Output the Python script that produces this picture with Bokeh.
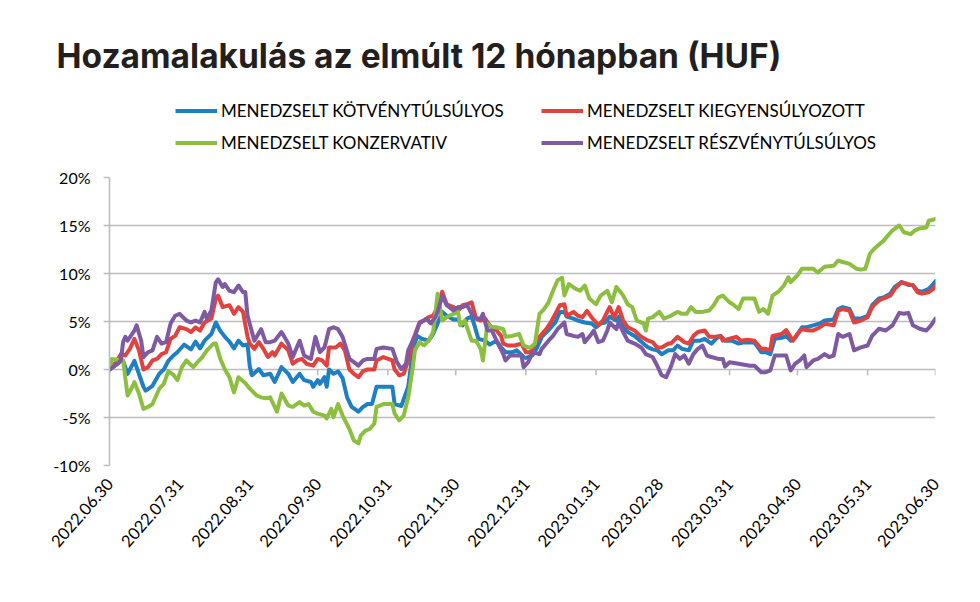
import pandas as pd
from bokeh.plotting import figure
from bokeh.models import (Range1d, FixedTicker, DatetimeTickFormatter, Legend, DatetimeAxis,
                          LegendItem, Label, PrintfTickFormatter)
from bokeh.embed import file_html
from bokeh.resources import INLINE

# ---------------- data ----------------
TITLE = "Hozamalakulás az elmúlt 12 hónapban (HUF)"
START = "2022-06-30"
END = "2023-06-30"
tick_dates = ["2022-06-30", "2022-07-31", "2022-08-31", "2022-09-30", "2022-10-31",
              "2022-11-30", "2022-12-31", "2023-01-31", "2023-02-28", "2023-03-31",
              "2023-04-30", "2023-05-31", "2023-06-30"]
y_ticks = [-10, -5, 0, 5, 10, 15, 20]

names = ["MENEDZSELT KÖTVÉNYTÚLSÚLYOS", "MENEDZSELT KIEGYENSÚLYOZOTT",
         "MENEDZSELT KONZERVATIV", "MENEDZSELT RÉSZVÉNYTÚLSÚLYOS"]
colors = ["#1f7fc4", "#e2423d", "#8cbf3f", "#7e5aa3"]

# days since 2022-06-30, return in %
days_kotveny = [0, 3, 5, 6, 8, 11, 15, 16, 19, 22, 24, 26, 28, 30, 33, 36, 38, 40, 42, 45,
                47, 49, 51, 53, 55, 57, 59, 61, 62, 63, 66, 68, 71, 73, 76, 79, 81, 84, 86, 89,
                90, 92, 93, 95, 96, 97, 99, 101, 103, 105, 107, 110, 112, 114, 116, 118, 121, 125, 126, 129,
                130, 132, 133, 134, 136, 138, 141, 143, 145, 147, 149, 152, 154, 156, 158, 160, 161, 163, 166, 168,
                171, 173, 175, 178, 180, 183, 184, 187, 189, 191, 194, 197, 199, 201, 202, 205, 207, 210, 213, 215,
                217, 219, 221, 224, 225, 227, 229, 232, 235, 238, 240, 242, 244, 247, 249, 251, 253, 256, 258, 261,
                263, 266, 268, 270, 272, 275, 278, 280, 282, 285, 288, 290, 292, 294, 297, 299, 301, 303, 306, 308,
                311, 314, 316, 320, 322, 324, 327, 329, 332, 335, 337, 340, 342, 345, 347, 350, 353, 355, 357, 359,
                362, 364, 365]
vals_kotveny = [0.0, 0.5, 0.9, 0.9, -0.45, 0.9, -1.8, -2.2, -1.7, -0.45, 0.0, 0.9, 1.4, 1.8, 2.6, 2.1, 2.9, 2.2, 3.0, 3.7,
                4.9, 4.0, 3.4, 2.9, 2.2, 3.0, 2.5, 2.6, 0.3, -0.6, 0.05, -0.6, -0.45, -1.3, 0.25, -0.45, -1.3, -0.45, -1.1, -1.3,
                -1.8, -1.1, -1.5, -0.8, -1.8, 0.0, -0.45, -0.2, -0.9, -2.9, -3.9, -4.4, -3.9, -3.6, -3.6, -1.8, -1.8, -1.8, -3.6, -3.8,
                -3.1, -1.8, 0.0, 2.1, 3.5, 3.2, 3.0, 3.7, 4.8, 6.0, 5.6, 5.2, 5.2, 4.6, 5.3, 5.5, 4.8, 3.2, 3.0, 2.6,
                3.0, 2.3, 1.8, 1.8, 2.0, 1.3, 1.2, 1.5, 2.3, 3.4, 4.1, 4.9, 6.0, 6.0, 5.5, 5.3, 5.1, 4.9, 4.8, 4.4,
                4.8, 4.9, 5.5, 5.1, 5.5, 4.4, 3.9, 3.5, 2.9, 2.3, 2.1, 2.0, 1.6, 2.0, 2.0, 2.5, 2.15, 2.0, 3.0, 3.0,
                3.2, 2.7, 3.2, 3.5, 3.0, 3.0, 2.7, 2.8, 2.8, 2.8, 1.8, 1.8, 1.6, 3.2, 3.3, 3.5, 3.0, 3.3, 4.4, 4.4,
                4.6, 4.8, 5.1, 5.2, 6.3, 6.5, 6.3, 5.3, 5.3, 5.6, 6.7, 7.4, 7.5, 7.9, 8.6, 9.1, 8.8, 8.8, 8.2, 8.1,
                8.4, 8.9, 9.2]

days_kiegy = [0, 3, 5, 7, 9, 11, 13, 15, 17, 19, 21, 23, 25, 27, 29, 31, 34, 36, 38, 40,
              42, 45, 47, 48, 50, 53, 55, 57, 59, 61, 62, 64, 66, 68, 70, 72, 73, 76, 79, 81,
              83, 85, 87, 90, 92, 94, 96, 97, 100, 102, 104, 106, 108, 110, 112, 114, 117, 118, 121, 125,
              126, 128, 130, 132, 134, 137, 139, 141, 143, 145, 147, 149, 152, 154, 156, 158, 160, 162, 164, 166,
              168, 171, 173, 174, 176, 179, 182, 184, 186, 188, 190, 193, 195, 197, 199, 201, 202, 205, 207, 209,
              211, 213, 216, 218, 221, 223, 225, 227, 229, 232, 235, 238, 240, 242, 244, 247, 248, 251, 254, 256,
              258, 260, 263, 265, 267, 270, 271, 274, 277, 279, 282, 285, 288, 290, 292, 293, 297, 299, 302, 304,
              306, 308, 311, 314, 316, 320, 322, 324, 327, 329, 332, 335, 337, 340, 342, 345, 347, 350, 353, 355,
              357, 359, 362, 364, 365]
vals_kiegy = [0.0, 0.76, 1.6, 1.46, 2.15, 3.2, 2.0, 0.0, 0.24, 0.94, 1.1, 1.6, 1.8, 3.2, 3.5, 4.4, 4.2, 3.9, 4.4, 4.06,
              4.9, 5.3, 7.4, 7.7, 6.5, 6.7, 5.8, 6.5, 6.0, 3.4, 2.7, 2.15, 2.85, 2.15, 1.3, 1.8, 1.46, 2.7, 2.0, 0.6,
              0.94, 1.1, 0.6, 0.4, 1.1, 0.94, 0.4, 2.3, 2.3, 2.7, 2.0, 0.0, -0.45, -0.8, -0.17, 0.0, 0.0, 0.94, 1.3, 0.94,
              0.0, -0.6, -0.45, 0.94, 3.0, 4.9, 5.1, 5.45, 5.6, 6.5, 8.1, 6.8, 6.5, 6.1, 6.7, 6.8, 7.0, 5.3, 5.1, 5.3,
              4.6, 4.06, 3.5, 2.7, 2.5, 2.5, 2.7, 1.8, 1.8, 2.7, 3.4, 4.2, 4.9, 5.8, 6.7, 6.8, 5.6, 6.0, 5.6, 5.45,
              6.1, 5.45, 4.6, 5.1, 6.5, 5.45, 6.5, 5.1, 4.4, 4.06, 3.4, 3.0, 2.85, 2.3, 2.3, 2.7, 2.7, 3.4, 2.85, 2.7,
              3.5, 3.9, 4.06, 3.4, 3.4, 3.5, 3.0, 3.2, 3.4, 3.0, 3.1, 3.0, 2.15, 2.15, 2.0, 3.5, 3.7, 4.1, 3.0, 3.7,
              4.2, 4.1, 4.06, 4.4, 4.76, 4.6, 6.1, 6.3, 6.1, 4.9, 5.1, 5.45, 6.5, 7.2, 7.4, 7.7, 8.4, 9.1, 8.9, 8.75,
              8.05, 7.9, 8.05, 8.4, 8.75]

days_konzerv = [0, 1, 4, 6, 8, 10, 11, 13, 15, 17, 19, 22, 24, 26, 28, 30, 32, 34, 37, 39,
                41, 43, 46, 47, 49, 51, 53, 55, 57, 60, 62, 65, 67, 69, 71, 74, 76, 79, 81, 84,
                86, 88, 90, 92, 95, 96, 98, 99, 101, 103, 106, 108, 110, 111, 113, 115, 117, 118, 121, 125,
                126, 128, 130, 132, 134, 135, 137, 139, 141, 143, 145, 147, 149, 152, 154, 155, 157, 160, 162, 164,
                165, 167, 169, 171, 174, 175, 178, 181, 183, 185, 186, 188, 190, 192, 194, 196, 198, 200, 201, 203,
                206, 208, 210, 212, 215, 217, 220, 222, 224, 227, 229, 231, 233, 236, 237, 238, 240, 243, 245, 248,
                251, 253, 255, 257, 259, 262, 265, 267, 269, 271, 274, 276, 278, 280, 282, 285, 287, 289, 291, 293,
                296, 298, 300, 301, 304, 306, 308, 311, 313, 316, 320, 322, 324, 327, 330, 332, 334, 336, 338, 342,
                344, 346, 349, 351, 354, 356, 358, 361, 362, 364, 365]
vals_konzerv = [0.0, 1.1, 1.0, 0.94, -2.7, -1.85, -1.3, -2.5, -4.1, -3.9, -3.6, -2.0, -1.5, -0.17, -0.5, -1.1, 0.24, 0.94, 0.24, 0.8,
                1.3, 2.0, 2.7, 2.7, 1.1, 0.0, -0.8, -2.4, -0.8, -1.4, -2.0, -2.7, -2.9, -3.0, -2.9, -4.4, -2.5, -3.76, -3.9, -3.4,
                -3.76, -3.6, -4.4, -4.6, -4.8, -5.1, -4.1, -4.97, -3.6, -4.8, -6.2, -7.4, -7.7, -6.9, -6.4, -6.2, -5.65, -3.9, -3.6, -3.6,
                -4.6, -5.3, -4.8, -2.9, 0.24, 2.0, 2.85, 2.5, 3.0, 3.9, 7.9, 5.1, 5.45, 5.8, 6.0, 4.6, 5.1, 3.0, 3.0, 2.15,
                0.94, 4.8, 4.4, 4.4, 4.2, 3.4, 3.5, 3.7, 2.5, 2.3, 2.3, 2.7, 5.8, 6.3, 7.0, 8.2, 9.3, 9.55, 7.7, 8.9,
                8.4, 8.2, 8.75, 7.4, 6.8, 7.7, 8.2, 7.0, 8.6, 7.7, 6.8, 6.5, 5.1, 4.8, 4.06, 5.3, 5.45, 6.0, 5.3, 5.6,
                6.0, 5.8, 5.8, 6.5, 6.0, 6.0, 6.15, 6.7, 7.5, 7.7, 7.0, 6.7, 6.3, 7.4, 7.4, 7.4, 6.0, 6.3, 5.8, 7.7,
                8.2, 8.75, 9.6, 9.1, 9.8, 10.5, 10.5, 10.5, 10.1, 10.7, 10.8, 11.35, 11.2, 11.0, 10.5, 10.4, 10.5, 12.05, 12.6, 13.4,
                13.96, 14.5, 15.0, 14.3, 14.1, 14.5, 14.7, 14.8, 15.5, 15.6, 15.7]

days_reszveny = [0, 3, 5, 6, 7, 8, 11, 12, 14, 15, 17, 19, 21, 23, 25, 27, 29, 31, 34, 36,
                 38, 40, 42, 43, 45, 47, 48, 50, 51, 53, 55, 57, 59, 60, 61, 64, 67, 69, 71, 73,
                 76, 79, 81, 84, 86, 89, 91, 93, 95, 97, 99, 101, 103, 106, 108, 110, 112, 114, 117, 118,
                 121, 125, 127, 129, 131, 132, 134, 135, 137, 140, 142, 144, 145, 147, 149, 152, 154, 156, 158, 160,
                 162, 164, 165, 167, 169, 171, 174, 175, 177, 179, 182, 183, 185, 187, 190, 191, 194, 196, 198, 201,
                 202, 205, 207, 209, 210, 213, 214, 216, 218, 220, 221, 224, 225, 227, 229, 232, 235, 237, 240, 242,
                 244, 246, 248, 250, 252, 254, 256, 258, 260, 262, 264, 266, 269, 271, 272, 274, 278, 283, 285, 288,
                 290, 292, 294, 299, 301, 303, 305, 307, 308, 311, 313, 316, 318, 320, 322, 324, 327, 329, 332, 335,
                 337, 340, 343, 346, 349, 351, 353, 355, 358, 361, 363, 365]
vals_reszveny = [0.0, 0.5, 0.94, 2.85, 3.4, 3.0, 4.06, 4.6, 3.0, 1.3, 1.8, 2.0, 3.4, 2.7, 2.85, 4.8, 5.6, 5.8, 5.1, 4.9,
                 5.1, 4.9, 6.0, 5.3, 6.15, 9.1, 9.4, 8.6, 8.9, 8.2, 8.06, 8.75, 8.06, 8.06, 5.6, 3.0, 4.2, 2.85, 2.85, 3.0,
                 3.9, 2.7, 1.3, 3.0, 1.46, 1.1, 3.4, 1.8, 2.3, 4.2, 4.4, 4.2, 3.4, 1.1, 0.76, 0.4, 0.94, 1.1, 1.1, 2.15,
                 2.3, 2.15, 0.76, 0.05, 0.6, 2.0, 3.0, 3.5, 4.8, 5.3, 4.8, 5.45, 6.0, 7.7, 6.7, 6.15, 6.5, 6.5, 6.7, 5.8,
                 5.3, 5.3, 5.8, 4.06, 4.06, 3.0, 1.6, 0.94, 1.46, 1.46, 1.46, 0.24, 0.76, 1.8, 1.6, 2.15, 3.0, 3.5, 4.2, 4.9,
                 3.7, 3.5, 3.4, 3.7, 2.85, 3.7, 4.06, 2.85, 3.0, 4.06, 4.9, 4.2, 4.9, 3.9, 3.0, 2.7, 2.3, 1.6, 1.3, 0.4,
                 -0.6, -0.8, 0.24, 1.6, 1.1, 1.46, 0.6, 1.6, 2.15, 2.5, 1.46, 1.3, 1.1, 1.1, 0.3, 0.76, 0.6, 0.4, 0.4, -0.28,
                 -0.28, -0.1, 1.46, 1.46, -0.1, 0.6, 0.94, 1.46, 0.24, 0.94, 1.1, 1.6, 1.3, 1.46, 3.7, 3.4, 3.7, 2.0, 2.3, 2.5,
                 3.5, 4.24, 4.06, 4.6, 5.9, 5.8, 5.9, 4.6, 4.24, 4.06, 4.6, 5.3]

series_days = [days_kotveny, days_kiegy, days_konzerv, days_reszveny]
series_vals = [vals_kotveny, vals_kiegy, vals_konzerv, vals_reszveny]

# ---------------- layout constants ----------------
W = 980
TOP_H = 167
BOT_H = 602 - TOP_H
TICK_FONT = "Lato"
GRID = "#bcbcbc"

start = pd.Timestamp(START)
end = pd.Timestamp(END)


def to_dates(days):
    return [start + pd.Timedelta(days=d) for d in days]


# ---------------- header (title + legend) ----------------
head = figure(width=W, height=TOP_H, output_backend="svg", toolbar_location=None,
              x_range=Range1d(0, 1), y_range=Range1d(0, 1),
              x_axis_location=None, y_axis_location=None,
              min_border=0, min_border_left=0, min_border_right=0,
              min_border_top=0, min_border_bottom=0)
head.outline_line_color = None
head.grid.visible = False

items = []
for name, color in zip(names, colors):
    # one-point carrier renderer outside the view: only its legend glyph is shown
    r = head.line(x=[5], y=[5], line_color=color, line_width=4, line_cap="butt")
    items.append(LegendItem(label=name, renderers=[r]))

legend = Legend(items=items, location=(175, 11), orientation="horizontal", ncols=2,
                glyph_width=42, glyph_height=27, label_height=27, label_width=315,
                label_standoff=4, spacing=5, padding=0, margin=0,
                border_line_color=None, background_fill_alpha=0,
                label_text_font=TICK_FONT, label_text_font_size="17px",
                label_text_color="#000000")
head.add_layout(legend, "center")

head.add_layout(Label(x=56, y=TOP_H - 55, x_units="screen", y_units="screen", text=TITLE,
                      text_font="Inter", text_font_style="bold", text_font_size="33.5px",
                      text_color="#231f20", text_baseline="alphabetic", text_align="left"))

# ---------------- chart ----------------
p = figure(width=W, height=BOT_H, x_axis_type="datetime", output_backend="svg",
           toolbar_location=None, x_range=Range1d(start, end), y_range=Range1d(-10, 20),
           min_border_left=109, min_border_right=45, min_border_top=10, min_border_bottom=137)
p.outline_line_color = None

p.xgrid.grid_line_color = None
p.ygrid.grid_line_color = GRID
p.ygrid.grid_line_width = 1.6
p.yaxis.ticker = FixedTicker(ticks=y_ticks)
p.yaxis.formatter = PrintfTickFormatter(format="%d%%")
p.yaxis.axis_line_color = GRID
p.yaxis.axis_line_width = 1.6
p.yaxis.major_tick_line_color = GRID
p.yaxis.major_tick_line_width = 1.6
p.yaxis.major_tick_in = 0
p.yaxis.major_tick_out = 6
p.yaxis.minor_tick_line_color = None
p.yaxis.major_label_standoff = 13
p.yaxis.major_label_text_font = TICK_FONT
p.yaxis.major_label_text_font_size = "16px"
p.yaxis.major_label_text_color = "#000000"

tick_ms = [pd.Timestamp(d).value / 1e6 for d in tick_dates]
fmt = "%Y.%m.%d"
p.xaxis.ticker = FixedTicker(ticks=tick_ms)
p.xaxis.formatter = DatetimeTickFormatter(microseconds=fmt, milliseconds=fmt, seconds=fmt,
                                          minsec=fmt, minutes=fmt, hourmin=fmt, hours=fmt,
                                          days=fmt, months=fmt, years=fmt)
p.xaxis.axis_line_color = None
p.xaxis.major_tick_line_color = None
p.xaxis.minor_tick_line_color = None
p.xaxis.major_label_orientation = 0.85
p.xaxis.major_label_standoff = 9
p.xaxis.major_label_text_font = TICK_FONT
p.xaxis.major_label_text_font_size = "16.5px"
p.xaxis.major_label_text_color = "#000000"

# tick marks on the 0% line
tick_dt = [pd.Timestamp(d) for d in tick_dates]
p.segment(x0=tick_dt, y0=[0] * len(tick_dt), x1=tick_dt, y1=[-0.6] * len(tick_dt),
          line_color=GRID, line_width=1.6)

for color, d, v in zip(colors, series_days, series_vals):
    p.line(to_dates(d), v, line_color=color, line_width=4,
           line_join="round", line_cap="round")

open("out.html", "w").write(file_html([head, p], INLINE))
